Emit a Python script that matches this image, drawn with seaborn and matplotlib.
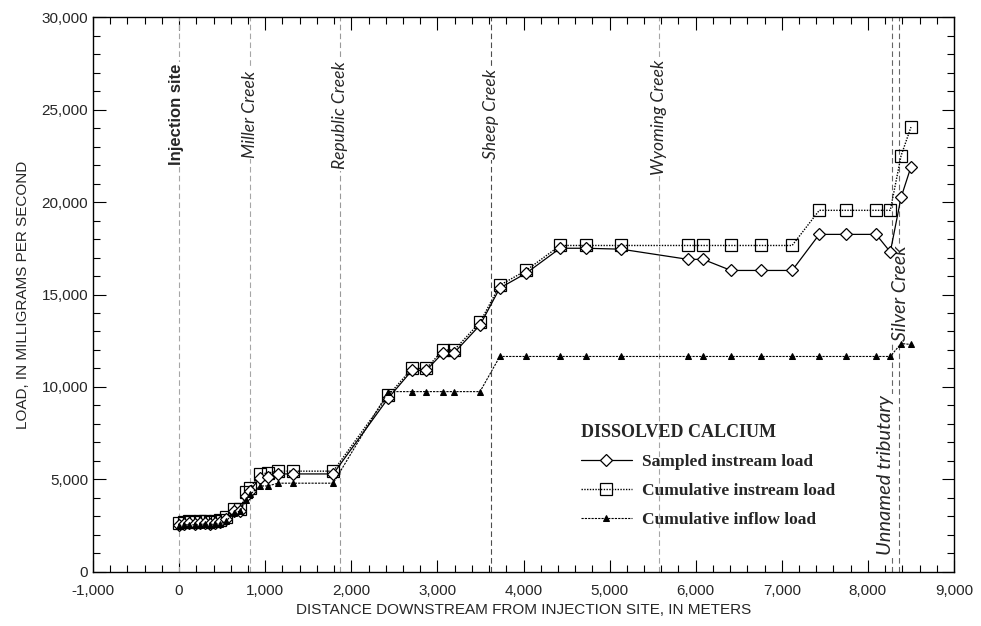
import matplotlib
matplotlib.use("Agg")
import matplotlib.pyplot as plt
import seaborn as sns
from matplotlib.ticker import MultipleLocator, FuncFormatter

# Data
distance = [0, 60, 120, 180, 240, 300, 360, 420, 480, 545, 640, 710, 780, 825,
            940, 1030, 1150, 1325, 1790, 2430, 2705, 2870, 3065, 3195, 3495,
            3725, 4030, 4425, 4725, 5135, 5910, 6085, 6410, 6760, 7120,
            7435, 7745, 8095, 8260, 8385, 8500]

sampled_load = [2550, 2600, 2650, 2600, 2650, 2650, 2600, 2650, 2700,
                2850, 3300, 3300, 4100, 4400,
                5100, 5150, 5300, 5300, 5300,
                9400, 10900, 10900, 11850, 11850, 13350,
                15350, 16150, 17500, 17500, 17450, 16900, 16900,
                16300, 16300, 16300, 18250, 18250, 18250,
                17300, 20250, 21900]

cumulative_instream = [2650, 2700, 2750, 2700, 2750, 2750, 2700, 2750, 2800,
                       2950, 3400, 3400, 4300, 4550,
                       5300, 5350, 5450, 5450, 5450,
                       9550, 11000, 11000, 12000, 12000, 13500,
                       15500, 16300, 17650, 17650, 17650, 17650, 17650,
                       17650, 17650, 17650, 19550, 19550, 19550,
                       19550, 22500, 24050]

cumulative_inflow = [2500, 2550, 2550, 2550, 2550, 2600, 2550, 2600, 2600,
                     2750, 3200, 3300, 3900, 4200,
                     4650, 4650, 4800, 4800, 4800,
                     9750, 9750, 9750, 9750, 9750, 9750,
                     11650, 11650, 11650, 11650, 11650, 11650, 11650,
                     11650, 11650, 11650, 11650, 11650, 11650,
                     11650, 12350, 12300]

site_names = ["Injection site", "Miller Creek", "Republic Creek", "Sheep Creek",
              "Wyoming Creek", "Unnamed tributary", "Silver Creek"]
site_distance = [0, 825, 1870, 3624, 5575, 8281, 8362]

sns.set_style("ticks")
plt.rcParams["font.family"] = ["Liberation Sans", "DejaVu Sans"]

fig = plt.figure(figsize=(9.81, 6.26), dpi=100)
ax = fig.add_axes([0.0948, 0.0863, 0.8777, 0.8865])

# site reference lines
line_colors = ["0.65", "0.65", "0.6", "0.3", "0.65", "0.4", "0.4"]
for d, c in zip(site_distance, line_colors):
    ax.axvline(d, color=c, lw=0.8, ls=(0, (5, 3)), zorder=1)

sns.lineplot(x=distance, y=sampled_load, ax=ax, sort=False, color="black",
             lw=0.9, marker="D", markersize=6, markerfacecolor="white",
             markeredgecolor="black", markeredgewidth=0.9,
             label="Sampled instream load", zorder=4)
sns.lineplot(x=distance, y=cumulative_instream, ax=ax, sort=False, color="black",
             lw=1.0, ls=(0, (1, 1)), marker="s", markersize=8,
             markerfacecolor="none", markeredgecolor="black",
             markeredgewidth=0.9, label="Cumulative instream load", zorder=3)
sns.lineplot(x=distance, y=cumulative_inflow, ax=ax, sort=False, color="black",
             lw=0.8, ls=(0, (2, 1)), marker="^", markersize=5,
             markerfacecolor="black", markeredgecolor="black",
             label="Cumulative inflow load", zorder=5)

# site labels
white = dict(facecolor="white", edgecolor="none", pad=1)
ax.text(-25, 27500, site_names[0], rotation=90, ha="center", va="top",
        fontsize=12, fontweight="bold", bbox=white, zorder=2)
label_tops = [27100, 27600, 27200, 27700]
for name, d, top in zip(site_names[1:5], site_distance[1:5], label_tops):
    ax.text(d, top, name, rotation=90, ha="center", va="top", fontsize=12.5,
            family="Lato", style="italic", bbox=white, zorder=2)
ax.text(8200, 900, site_names[5], rotation=90, ha="center", va="bottom",
        fontsize=14.5, family="Lato", style="italic", bbox=white, zorder=2)
ax.text(8375, 12500, site_names[6], rotation=90, ha="center", va="bottom",
        fontsize=14, family="Lato", style="italic", bbox=white, zorder=2)

ax.set_xlim(-1000, 9000)
ax.set_ylim(0, 30000)
ax.xaxis.set_major_locator(MultipleLocator(1000))
ax.xaxis.set_minor_locator(MultipleLocator(200))
ax.yaxis.set_major_locator(MultipleLocator(5000))
ax.yaxis.set_minor_locator(MultipleLocator(1000))
ax.xaxis.set_major_formatter(FuncFormatter(lambda v, p: f"{int(v):,}"))
ax.yaxis.set_major_formatter(FuncFormatter(lambda v, p: f"{int(v):,}"))
ax.tick_params(which="both", direction="in", top=True, right=True,
               labelsize=11, width=0.8, color="black")
ax.tick_params(which="major", length=9)
ax.tick_params(which="minor", length=5)
ax.tick_params(axis="x", which="major", pad=9)
for s in ax.spines.values():
    s.set_linewidth(1.0)
    s.set_color("black")

ax.set_xlabel("DISTANCE DOWNSTREAM FROM INJECTION SITE, IN METERS", fontsize=11,
              labelpad=3)
ax.set_ylabel("LOAD, IN MILLIGRAMS PER SECOND", fontsize=11, labelpad=8)

leg = ax.legend(loc="upper left", bbox_to_anchor=(0.549, 0.295), frameon=False,
                title="DISSOLVED CALCIUM", handlelength=2.9, labelspacing=0.75,
                handletextpad=0.6,
                prop={"family": "Liberation Serif", "weight": "bold", "size": 12.5})
leg.get_title().set_fontfamily("Liberation Serif")
leg.get_title().set_fontweight("bold")
leg.get_title().set_fontsize(13)
leg._legend_box.align = "left"

fig.savefig("out.png", dpi=100)
